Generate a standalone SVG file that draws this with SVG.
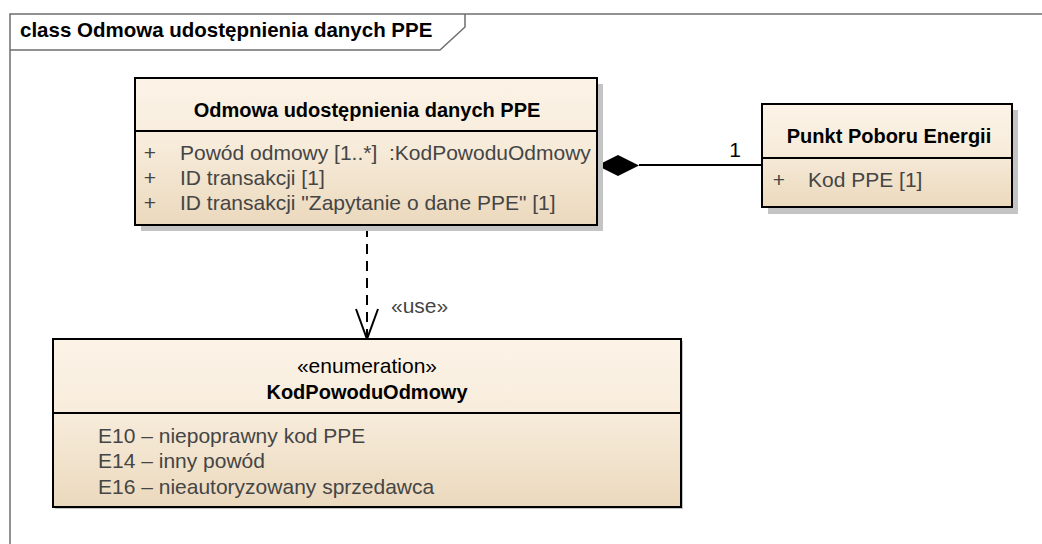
<svg xmlns="http://www.w3.org/2000/svg" width="1042" height="544" viewBox="0 0 1042 544">
<style>
text{font-family:"Liberation Sans",Arial,sans-serif;white-space:pre}
.t{font-weight:bold;font-size:20px;fill:#000}
.a{font-size:21px;fill:#454545}
.box{fill:url(#g);stroke:#000;stroke-width:2}
.sh{fill:#c4c4c4}
.sep{stroke:#000;stroke-width:2}
.frame{fill:none;stroke:#6e6e6e;stroke-width:1.5}
.conn{stroke:#000;stroke-width:2;fill:none}
</style>
<defs>
<linearGradient id="g" x1="0" y1="0" x2="0" y2="1">
<stop offset="0" stop-color="#FCF3E7"/>
<stop offset="0.4" stop-color="#F8EDDD"/>
<stop offset="1" stop-color="#EBD9BD"/>
</linearGradient>
</defs>
<rect width="1042" height="544" fill="#fff"/>
<g id="frame">
<path class="frame" d="M10,544 V14 H1042"/>
<path class="frame" d="M10,50 H440 L465,27 V14"/>
<text class="t" x="20" y="37" style="font-size:20.5px">class Odmowa udostępnienia danych PPE</text>
</g>
<g id="connectors">
<path class="conn" d="M639,165 H762"/>
<path d="M597,165.5 L618,155 L639,165.5 L618,176 Z" fill="#000"/>
<text class="a" x="735" y="157" text-anchor="middle" style="fill:#000">1</text>
<path class="conn" d="M367,227 V338" stroke-dasharray="10,7"/>
<path class="conn" d="M356,309 L367,339 L378,309"/>
<text class="a" x="391" y="313">«use»</text>
</g>
<g id="node-main">
<rect class="sh" x="141" y="84" width="462" height="147"/>
<rect class="box" x="135" y="78" width="462" height="147"/>
<line class="sep" x1="135" y1="131" x2="597" y2="131"/>
<text class="t" x="367" y="117" text-anchor="middle">Odmowa udostępnienia danych PPE</text>
<text class="a" x="150" y="160" text-anchor="middle">+</text>
<text class="a" x="180" y="160" xml:space="preserve">Powód odmowy [1..*]  :KodPowoduOdmowy</text>
<text class="a" x="150" y="185" text-anchor="middle">+</text>
<text class="a" x="180" y="185">ID transakcji [1]</text>
<text class="a" x="150" y="210" text-anchor="middle">+</text>
<text class="a" x="180" y="210">ID transakcji "Zapytanie o dane PPE" [1]</text>
</g>
<g id="node-ppe">
<rect class="sh" x="768" y="110" width="250" height="104"/>
<rect class="box" x="762" y="104" width="250" height="103"/>
<line class="sep" x1="762" y1="158" x2="1012" y2="158"/>
<text class="t" x="889" y="143" text-anchor="middle">Punkt Poboru Energii</text>
<text class="a" x="779" y="187" text-anchor="middle">+</text>
<text class="a" x="808" y="187">Kod PPE [1]</text>
</g>
<g id="node-enum">
<rect class="sh" x="55" y="341" width="628" height="168"/>
<rect class="box" x="53" y="339" width="628" height="168"/>
<line class="sep" x1="53" y1="413" x2="681" y2="413"/>
<text class="a" x="367" y="373" text-anchor="middle" style="fill:#000">«enumeration»</text>
<text class="t" x="367" y="399" text-anchor="middle">KodPowoduOdmowy</text>
<text class="a" x="98" y="443">E10 – niepoprawny kod PPE</text>
<text class="a" x="98" y="468">E14 – inny powód</text>
<text class="a" x="98" y="494">E16 – nieautoryzowany sprzedawca</text>
</g>
</svg>
